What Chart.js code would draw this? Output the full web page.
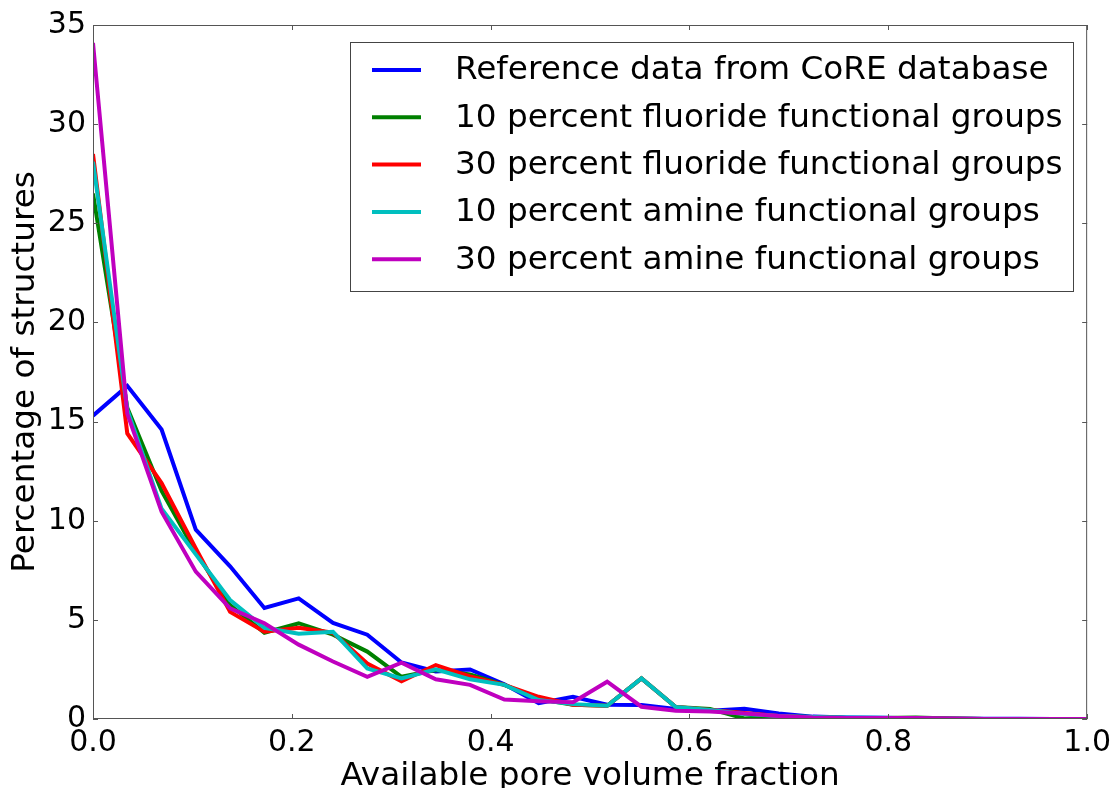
<!DOCTYPE html>
<html>
<head>
<meta charset="utf-8">
<script src="https://cdn.jsdelivr.net/npm/chart.js@4"></script>
<style>
  body { margin: 0; background: #fff; }
</style>
</head>
<body>
<canvas id="poreChart" width="1117" height="788"></canvas>
<script>
// bin positions (available pore volume fraction)
const poreFraction = [
  0.0, 0.0345, 0.069, 0.1034, 0.1379, 0.1724, 0.2069, 0.2414, 0.2759, 0.3103,
  0.3448, 0.3793, 0.4138, 0.4483, 0.4828, 0.5172, 0.5517, 0.5862, 0.6207, 0.6552,
  0.6897, 0.7241, 0.7586, 0.7931, 0.8276, 0.8621, 0.8966, 0.931, 0.9655, 1.0,
];

const seriesNames = [
  "Reference data from CoRE database",
  "10 percent fluoride functional groups",
  "30 percent fluoride functional groups",
  "10 percent amine functional groups",
  "30 percent amine functional groups",
];

const referenceCoRE = [
  15.3, 16.8, 14.6, 9.55, 7.7, 5.6, 6.08, 4.85, 4.25, 2.85,
  2.4, 2.5, 1.75, 0.8, 1.12, 0.72, 0.7, 0.5, 0.42, 0.52,
  0.28, 0.12, 0.08, 0.06, 0.04, 0.02, 0.01, 0.01, 0, 0,
];
const fluoride10 = [
  26.5, 15.7, 11.5, 8.4, 5.75, 4.35, 4.83, 4.25, 3.4, 2.13,
  2.47, 2.25, 1.72, 1.0, 0.72, 0.67, 2.05, 0.6, 0.5, 0.03,
  0.15, 0.1, 0.05, 0.05, 0.07, 0.02, 0, 0, 0, 0,
];
const fluoride30 = [
  28.5, 14.4, 11.9, 8.6, 5.4, 4.4, 4.6, 4.35, 2.8, 1.9,
  2.72, 2.15, 1.72, 1.12, 0.72, 0.67, 2.05, 0.6, 0.45, 0.3,
  0.15, 0.08, 0.05, 0.03, 0.02, 0.01, 0, 0, 0, 0,
];
const amine10 = [
  28.1, 15.6, 10.6, 8.3, 6.0, 4.6, 4.3, 4.4, 2.55, 2.05,
  2.5, 2.0, 1.72, 0.96, 0.75, 0.67, 2.05, 0.6, 0.45, 0.25,
  0.15, 0.1, 0.08, 0.06, 0.03, 0.01, 0, 0, 0, 0,
];
const amine30 = [
  34.1, 15.4, 10.45, 7.43, 5.58, 4.83, 3.75, 2.9, 2.13, 2.84,
  2.0, 1.72, 0.98, 0.9, 0.85, 1.88, 0.62, 0.42, 0.38, 0.28,
  0.15, 0.08, 0.05, 0.05, 0.05, 0.02, 0, 0, 0, 0,
];

const allSeries = [referenceCoRE, fluoride10, fluoride30, amine10, amine30];
const lineColors = ["#0000ff", "#008000", "#ff0000", "#00bfbf", "#bf00bf"];

const FONT = "'DejaVu Sans', sans-serif";

// matplotlib-style frame, inward ticks and legend box inside the axes
const framePlugin = {
  id: "frame",
  afterDraw(chart) {
    const { ctx, chartArea: a, scales } = chart;
    ctx.save();
    ctx.strokeStyle = "#555";
    ctx.lineWidth = 1;
    ctx.strokeRect(a.left + 0.5, a.top + 0.5, a.right - a.left - 1, a.bottom - a.top - 1);

    ctx.beginPath();
    scales.x.ticks.forEach((t) => {
      const px = Math.round(scales.x.getPixelForValue(t.value)) + 0.5;
      ctx.moveTo(px, a.bottom);
      ctx.lineTo(px, a.bottom - 5);
      ctx.moveTo(px, a.top);
      ctx.lineTo(px, a.top + 5);
    });
    scales.y.ticks.forEach((t) => {
      const py = Math.round(scales.y.getPixelForValue(t.value)) + 0.5;
      ctx.moveTo(a.left, py);
      ctx.lineTo(a.left + 5, py);
      ctx.moveTo(a.right, py);
      ctx.lineTo(a.right - 5, py);
    });
    ctx.stroke();

    // legend
    const box = { x: 350, y: 42, w: 723, h: 249 };
    ctx.fillStyle = "#fff";
    ctx.fillRect(box.x, box.y, box.w, box.h);
    ctx.strokeStyle = "#444";
    ctx.strokeRect(box.x + 0.5, box.y + 0.5, box.w, box.h);
    ctx.font = "32.7px " + FONT;
    ctx.textBaseline = "middle";
    ctx.textAlign = "left";
    seriesNames.forEach((name, i) => {
      const cy = 70 + i * 47.3;
      ctx.strokeStyle = lineColors[i];
      ctx.lineWidth = 4;
      ctx.beginPath();
      ctx.moveTo(372, cy);
      ctx.lineTo(421, cy);
      ctx.stroke();
      ctx.fillStyle = "#000";
      ctx.fillText(name, 455, cy + 1);
    });
    ctx.restore();
  },
};

const datasets = allSeries.map((vals, i) => ({
  label: seriesNames[i],
  data: vals.map((v, j) => ({ x: poreFraction[j], y: v })),
  borderColor: lineColors[i],
  backgroundColor: lineColors[i],
  borderWidth: 4,
  pointRadius: 0,
  tension: 0,
  order: allSeries.length - i,
}));

new Chart(document.getElementById("poreChart").getContext("2d"), {
  type: "line",
  data: { datasets },
  options: {
    responsive: false,
    devicePixelRatio: 1,
    animation: false,
    layout: { padding: { top: 25, right: 28, left: 0, bottom: 0 } },
    plugins: {
      legend: { display: false },
      tooltip: { enabled: false },
    },
    scales: {
      x: {
        type: "linear",
        min: 0,
        max: 1,
        grid: { display: false, drawTicks: false },
        border: { display: false },
        ticks: {
          stepSize: 0.2,
          padding: 6,
          color: "#000",
          font: { family: FONT, size: 30 },
          callback: (v) => v.toFixed(1),
        },
        title: {
          display: true,
          text: "Available pore volume fraction",
          color: "#000",
          font: { family: FONT, size: 32.7, lineHeight: 1.0 },
          padding: { top: 0, bottom: -5 },
        },
        afterFit: (scale) => { scale.height = 69; },
      },
      y: {
        min: 0,
        max: 35,
        grid: { display: false, drawTicks: false },
        border: { display: false },
        ticks: {
          stepSize: 5,
          padding: 7,
          color: "#000",
          font: { family: FONT, size: 30 },
        },
        title: {
          display: true,
          text: "Percentage of structures",
          color: "#000",
          font: { family: FONT, size: 32.7 },
          padding: { top: 6, bottom: 0 },
        },
        afterFit: (scale) => { scale.width = 93; },
      },
    },
  },
  plugins: [framePlugin],
});
</script>
</body>
</html>
